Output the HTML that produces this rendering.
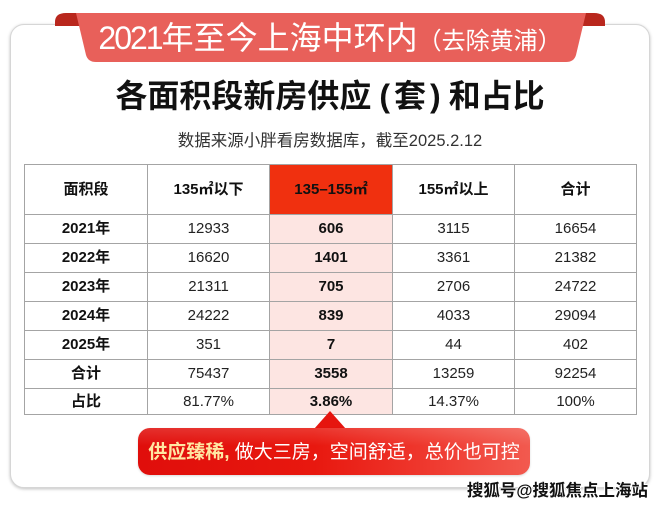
<!DOCTYPE html>
<html>
<head>
<meta charset="utf-8">
<style>
  html,body{margin:0;padding:0;background:#fff;}
  body{width:660px;height:506px;position:relative;overflow:hidden;
       font-family:"Liberation Sans","Noto Sans CJK SC",sans-serif;}
  .card{position:absolute;left:10px;top:24px;width:638px;height:462px;
        border:1px solid #d6d6d6;border-radius:14px;background:#fff;
        box-shadow:0 1px 3px rgba(0,0,0,0.25);}
  svg.rib{position:absolute;left:0;top:0;}
  .ribtxt{position:absolute;left:0;top:16px;width:660px;height:44px;line-height:44px;
          text-align:center;color:#fff;white-space:nowrap;}
  .ribtxt .m{font-size:32px;}
  .ribtxt .d{letter-spacing:-2px;}
  .ribtxt .s{font-size:24px;}
  .title{position:absolute;left:0;top:76px;width:660px;height:40px;line-height:40px;
         text-align:center;font-size:32px;font-weight:bold;color:#111;white-space:nowrap;}
  .sub{position:absolute;left:0;top:131px;width:660px;height:20px;line-height:20px;
       text-align:center;font-size:16.5px;color:#333;white-space:nowrap;}
  table{position:absolute;left:24px;top:164px;width:612px;border-collapse:collapse;
        table-layout:fixed;}
  td{border:1px solid #a4a4a4;text-align:center;vertical-align:middle;padding:0;
     font-size:15px;line-height:18px;color:#222;white-space:nowrap;}
  tr.h{height:50px;}
  tr.h td{height:49px;font-weight:bold;color:#111;}
  tr.r{height:29px;}
  tr.r td{height:28px;}
  tr.l{height:26px;}
  tr.l td{height:25px;}
  td.y{font-weight:bold;color:#111;}
  td.hl{background:#fde5e2;font-weight:bold;color:#111;}
  td.hh{background:#f0300f;color:#fff;font-weight:bold;}
  .callout{position:absolute;left:138px;top:428px;width:392px;height:47px;border-radius:12px;
           background:linear-gradient(to right,#e00e0b 0%,#e8180f 45%,#ef3a30 75%,#f25a4f 100%);
           box-shadow:0 1px 2px rgba(0,0,0,0.15);overflow:hidden;}
  .callout:after{content:"";position:absolute;left:0;top:0;right:0;height:18px;
           background:linear-gradient(to bottom,rgba(255,255,255,0.14),rgba(255,255,255,0));}
  .ctext{position:absolute;left:138px;top:429px;width:392px;height:47px;line-height:47px;
         text-align:center;font-size:19px;color:#fff;white-space:nowrap;z-index:2;}
  .ctext b{color:#ffe7a3;}
  .tri{position:absolute;left:314px;top:411px;width:0;height:0;
       border-left:16px solid transparent;border-right:16px solid transparent;
       border-bottom:18px solid #e6150f;}
  .wm{position:absolute;left:466px;top:481px;width:182px;height:20px;line-height:20px;
      text-align:right;font-size:16.5px;font-weight:bold;color:#111;white-space:nowrap;
      text-shadow:1px 0 0 #fff,-1px 0 0 #fff,0 1px 0 #fff,0 -1px 0 #fff;}
</style>
</head>
<body>
<div class="card"></div>

<svg class="rib" width="660" height="80" viewBox="0 0 660 80">
  <path d="M55,26 L55,22 Q55,13 66,13 L82,13 L82,26 Z" fill="#b9271d"/>
  <path d="M605,26 L605,22 Q605,13 594,13 L578,13 L578,26 Z" fill="#b9271d"/>
  <path d="M76,13 L586,13 L576,55 Q574,62 566,62 L96,62 Q88,62 86,55 Z" fill="#e8605a"/>
</svg>
<div class="ribtxt"><span class="m"><span class="d">2021</span>年至今上海中环内</span><span class="s">（去除黄浦）</span></div>

<div class="title">各面积段新房供应<span style="margin-left:8px;margin-right:4px;">(</span>套<span style="margin-left:4px;margin-right:8px;">)</span>和占比</div>
<div class="sub">数据来源小胖看房数据库，截至2025.2.12</div>

<table>
  <colgroup><col style="width:123px"><col style="width:122px"><col style="width:123px"><col style="width:122px"><col style="width:122px"></colgroup>
  <tr class="h"><td>面积段</td><td>135㎡以下</td><td class="hh">135–155㎡</td><td>155㎡以上</td><td>合计</td></tr>
  <tr class="r"><td class="y">2021年</td><td>12933</td><td class="hl">606</td><td>3115</td><td>16654</td></tr>
  <tr class="r"><td class="y">2022年</td><td>16620</td><td class="hl">1401</td><td>3361</td><td>21382</td></tr>
  <tr class="r"><td class="y">2023年</td><td>21311</td><td class="hl">705</td><td>2706</td><td>24722</td></tr>
  <tr class="r"><td class="y">2024年</td><td>24222</td><td class="hl">839</td><td>4033</td><td>29094</td></tr>
  <tr class="r"><td class="y">2025年</td><td>351</td><td class="hl">7</td><td>44</td><td>402</td></tr>
  <tr class="r"><td class="y">合计</td><td>75437</td><td class="hl">3558</td><td>13259</td><td>92254</td></tr>
  <tr class="l"><td class="y">占比</td><td>81.77%</td><td class="hl">3.86%</td><td>14.37%</td><td>100%</td></tr>
</table>

<div class="tri"></div>
<div class="callout"></div>
<div class="ctext"><b>供应臻稀,</b> 做大三房，空间舒适，总价也可控</div>

<div class="wm">搜狐号@搜狐焦点上海站</div>
</body>
</html>
